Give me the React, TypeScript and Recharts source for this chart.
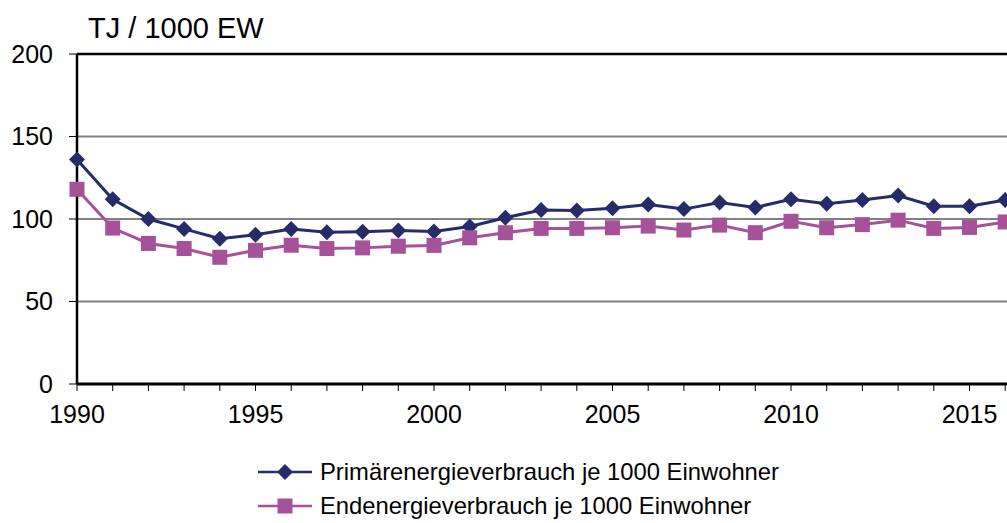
import React from 'react';
import { LineChart, Line, XAxis, YAxis, CartesianGrid, ReferenceLine, Legend } from 'recharts';

const years = [
  1990, 1991, 1992, 1993, 1994, 1995, 1996, 1997, 1998, 1999, 2000, 2001, 2002,
  2003, 2004, 2005, 2006, 2007, 2008, 2009, 2010, 2011, 2012, 2013, 2014, 2015, 2016,
];
const primaer = [
  136, 112, 100, 94, 88, 90.5, 94, 92, 92.3, 93, 92.5, 95.5, 100.8,
  105.5, 105.2, 106.5, 108.8, 106, 110, 107, 112, 109.3, 111.5, 114.2, 107.8, 107.8, 111.5,
];
const endenergie = [
  118, 94.5, 85.2, 82.1, 76.8, 81, 84.1, 82.1, 82.5, 83.5, 84, 88.6, 91.7,
  94.3, 94.3, 94.7, 95.7, 93.3, 96.3, 91.7, 98.6, 94.7, 96.6, 99.3, 94.3, 94.9, 98.2,
];
const xTicks = [
  1990, 1991, 1992, 1993, 1994, 1995, 1996, 1997, 1998, 1999, 2000, 2001, 2002, 2003, 2004,
  2005, 2006, 2007, 2008, 2009, 2010, 2011, 2012, 2013, 2014, 2015, 2016, 2017, 2018, 2019, 2020,
];
const yTicks = [0, 50, 100, 150, 200];

const NAVY = '#252C69';
const PURPLE = '#A5529A';
const FONT = '"Liberation Sans", Arial, sans-serif';

const data = years.map((year, i) => ({ year, primaer: primaer[i], endenergie: endenergie[i] }));

const Diamond = (props: any) => {
  const { cx, cy } = props;
  if (cx == null || cy == null) return null;
  const r = 8;
  return <polygon points={`${cx},${cy - r} ${cx + r},${cy} ${cx},${cy + r} ${cx - r},${cy}`} fill={NAVY} />;
};

const Square = (props: any) => {
  const { cx, cy } = props;
  if (cx == null || cy == null) return null;
  const s = 15;
  return <rect x={cx - s / 2} y={cy - s / 2} width={s} height={s} fill={PURPLE} />;
};

const legendRows = [
  { label: 'Primärenergieverbrauch je 1000 Einwohner', color: NAVY, shape: 'diamond' },
  { label: 'Endenergieverbrauch je 1000 Einwohner', color: PURPLE, shape: 'square' },
];

const LegendContent = () => (
  <div style={{ fontFamily: FONT, fontSize: 23.8, color: '#000' }}>
    {legendRows.map((row) => (
      <div key={row.label} style={{ display: 'flex', alignItems: 'center', height: 34 }}>
        <svg width={60} height={20} style={{ marginRight: 4 }}>
          <line x1={2} y1={10} x2={56} y2={10} stroke={row.color} strokeWidth={2.5} />
          {row.shape === 'diamond' ? (
            <polygon points="29,2 37,10 29,18 21,10" fill={row.color} />
          ) : (
            <rect x={21.5} y={2.5} width={15} height={15} fill={row.color} />
          )}
        </svg>
        <span>{row.label}</span>
      </div>
    ))}
  </div>
);

export default function App() {
  return (
    <div style={{ position: 'fixed', left: 0, top: 0, width: 1007, height: 523, overflow: 'hidden', background: '#fff' }}>
      <div style={{ position: 'absolute', left: 88, top: 11, fontFamily: FONT, fontSize: 29, color: '#000', lineHeight: '34px' }}>
        TJ / 1000 EW
      </div>
      <LineChart width={1160} height={523} data={data} margin={{ top: 54, right: 12, left: 0, bottom: 9 }}>
        <CartesianGrid horizontal vertical={false} stroke="#808080" strokeWidth={2} />
        <ReferenceLine y={200} stroke="#000" strokeWidth={2.5} />
        <XAxis
          dataKey="year"
          type="number"
          domain={[1990, 2020]}
          ticks={xTicks}
          interval={0}
          tickFormatter={(v) => (v % 5 === 0 ? String(v) : '')}
          height={58}
          tickSize={7}
          tickMargin={14}
          axisLine={{ stroke: '#000', strokeWidth: 3 }}
          tickLine={{ stroke: '#000', strokeWidth: 1 }}
          tick={{ fontSize: 25, fill: '#000', fontFamily: FONT }}
        />
        <YAxis
          domain={[0, 200]}
          ticks={yTicks}
          width={77}
          tickSize={8}
          tickMargin={16}
          axisLine={{ stroke: '#000', strokeWidth: 2.5 }}
          tickLine={{ stroke: '#000', strokeWidth: 1 }}
          tick={{ fontSize: 25, fill: '#000', fontFamily: FONT }}
        />
        <Legend
          verticalAlign="bottom"
          height={72}
          content={<LegendContent />}
          wrapperStyle={{ left: 256, width: 'auto', bottom: -4 }}
        />
        <Line
          dataKey="primaer"
          stroke={NAVY}
          strokeWidth={3}
          dot={<Diamond />}
          activeDot={false}
          isAnimationActive={false}
        />
        <Line
          dataKey="endenergie"
          stroke={PURPLE}
          strokeWidth={3}
          dot={<Square />}
          activeDot={false}
          isAnimationActive={false}
        />
      </LineChart>
    </div>
  );
}
